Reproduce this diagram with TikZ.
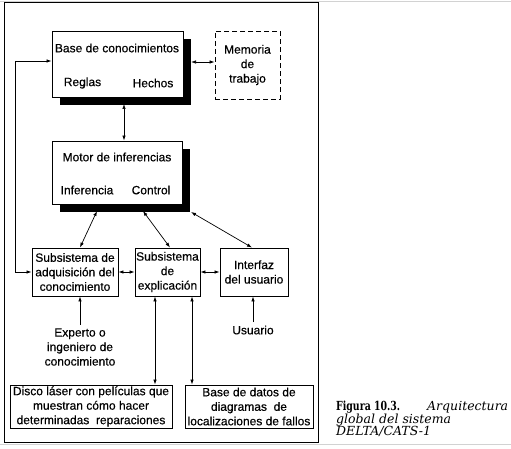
\documentclass[tikz,border=0pt]{standalone}
\usepackage{graphicx}
\usepackage{fontspec}
\setmainfont[FakeBold=0.4]{Liberation Sans}
\newfontfamily\pie{DejaVu Serif}
\usetikzlibrary{arrows.meta,shadows}

\begin{document}
\begin{tikzpicture}[x=1pt, y=-1pt, >={Latex[length=5pt,width=3.5pt]},
  every node/.style={font=\fontsize{12}{14.5}\selectfont, align=center},
  caja/.style={draw, line width=0.9pt, inner sep=0pt},
  sombra/.style={caja, fill=white, drop shadow={shadow xshift=8pt, shadow yshift=-8pt, fill=black, opacity=1}},
  flecha/.style={<->, line width=0.7pt},
  textopie/.style={anchor=base west, inner sep=0pt, font=\pie\itshape\fontsize{12.5}{13}\selectfont}]

\useasboundingbox (0,0) rectangle (511,449);
\draw[gray!35, line width=0.8pt] (0,1) -- (511,1);
\draw[gray!35, line width=0.8pt] (0,444) -- (511,444);
\draw[line width=1pt] (4,3) rectangle (318,442);

% base de conocimientos y memoria
\node[sombra, minimum width=131pt, minimum height=66pt] (base) at (117.5,64) {};
\node (bctit) at (117,48) {Base de conocimientos};
\node (reglas) at (82.5,83) {Reglas};
\node (hechos) at (153,83) {Hechos};
\node[caja, dash pattern=on 5pt off 3pt, minimum width=65pt, minimum height=68pt] (memoria) at (247.5,65) {Memoria\\de\\trabajo};

% motor
\node[sombra, minimum width=130pt, minimum height=63pt] (motor) at (117,172.5) {};
\node (mottit) at (117,157) {Motor de inferencias};
\node (inferencia) at (87,190) {Inferencia};
\node (control) at (151,190) {Control};

% subsistemas
\node[caja, minimum width=86pt, minimum height=48pt] (adq) at (75,272) {Subsistema de\\adquisición del\\conocimiento};
\node[caja, minimum width=65pt, minimum height=48pt] (exp) at (167.5,272) {Subsistema\\de\\explicación};
\node[caja, minimum width=68pt, minimum height=48pt] (int) at (254,272) {Interfaz\\del usuario};

\node (experto) at (80,347) {Experto o\\ingeniero de\\conocimiento};
\node (usuario) at (253,330) {Usuario};

\node[caja, minimum width=162pt, minimum height=43pt] (disco) at (91,406.5) {Disco láser con películas que\\muestran cómo hacer\\determinadas\ \ reparaciones};
\node[caja, minimum width=128pt, minimum height=43pt] (datos) at (249,406.5) {Base de datos de\\diagramas\ \ de\\localizaciones de fallos};

\coordinate (bsE) at (191,62);
\coordinate (bsS) at (124,104);
\coordinate (m1) at (97,211);
\coordinate (m2) at (143,211);
\coordinate (m3) at (191,212);

\draw[flecha] (bsE) -- (memoria.west |- bsE);
\draw[flecha] (bsS) -- (bsS |- motor.north);
\draw[flecha] (m1) -- ([xshift=5pt]adq.north);
\draw[flecha] (m2) -- ([xshift=2.5pt]exp.north);
\draw[flecha] (m3) -- ([xshift=-2pt]int.north);
\draw[flecha] (adq.west) -- ++(-16,0) |- ([yshift=3pt]base.west);
\draw[flecha] (adq.east) -- (exp.west);
\draw[flecha] (exp.east) -- (int.west);
\draw[->, line width=0.7pt] (experto.north) -- (experto.north |- adq.south);
\draw[->, line width=0.7pt] (usuario.north) -- (usuario.north |- int.south);
\draw[flecha] ([xshift=-12.5pt]exp.south) -- ([xshift=-12.5pt]exp.south |- disco.north);
\draw[flecha] ([xshift=24.5pt]exp.south) -- ([xshift=24.5pt]exp.south |- datos.north);

% pie de figura
\node[textopie] (fig) at (336,410.5) {\resizebox{64pt}{9.5pt}{\pie\upshape\bfseries Figura 10.3.}};
\node[textopie] (pie1) at (427,410.5) {Arquitectura};
\node[textopie] (pie2) at (336,423) {global del sistema};
\node[textopie] (pie3) at (336,435.5) {DELTA/CATS-1};

\end{tikzpicture}
\end{document}
